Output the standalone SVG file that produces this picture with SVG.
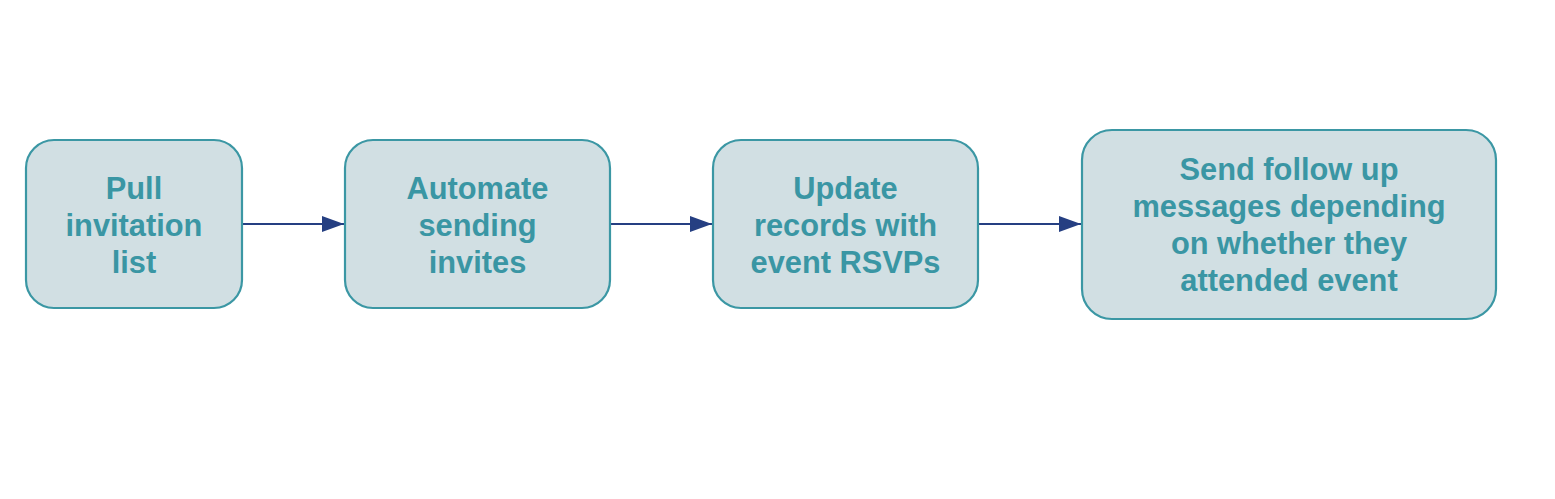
<svg xmlns="http://www.w3.org/2000/svg" width="1555" height="499" viewBox="0 0 1555 499">
<style>
.box{fill:#d1dfe3;stroke:#3b97a4;stroke-width:2.2}
.lbl{font-family:"Liberation Sans",Arial,sans-serif;font-weight:bold;font-size:30.8px;fill:#3a96a4;text-anchor:middle}
.conn{stroke:#253f82;stroke-width:2;fill:none}
</style>
<defs>
<marker id="arr" markerUnits="userSpaceOnUse" markerWidth="22" markerHeight="18" refX="22" refY="9" orient="auto">
<path d="M0,1 L22,9 L0,17 Z" fill="#253f82"/>
</marker>
</defs>
<rect width="1555" height="499" fill="#ffffff"/>
<g id="connectors">
<line class="conn" x1="242" y1="224" x2="344" y2="224" marker-end="url(#arr)"/>
<line class="conn" x1="610" y1="224" x2="712" y2="224" marker-end="url(#arr)"/>
<line class="conn" x1="978" y1="224" x2="1081" y2="224" marker-end="url(#arr)"/>
</g>
<g id="node1">
<rect class="box" x="26" y="140" width="216" height="168" rx="28"/>
<text class="lbl" x="134" y="199">Pull</text>
<text class="lbl" x="134" y="236">invitation</text>
<text class="lbl" x="134" y="273">list</text>
</g>
<g id="node2">
<rect class="box" x="345" y="140" width="265" height="168" rx="28"/>
<text class="lbl" x="477.5" y="199">Automate</text>
<text class="lbl" x="477.5" y="236">sending</text>
<text class="lbl" x="477.5" y="273">invites</text>
</g>
<g id="node3">
<rect class="box" x="713" y="140" width="265" height="168" rx="28"/>
<text class="lbl" x="845.5" y="199">Update</text>
<text class="lbl" x="845.5" y="236">records with</text>
<text class="lbl" x="845.5" y="273">event RSVPs</text>
</g>
<g id="node4">
<rect class="box" x="1082" y="130" width="414" height="189" rx="30"/>
<text class="lbl" x="1289" y="180">Send follow up</text>
<text class="lbl" x="1289" y="217">messages depending</text>
<text class="lbl" x="1289" y="254">on whether they</text>
<text class="lbl" x="1289" y="291">attended event</text>
</g>
</svg>
